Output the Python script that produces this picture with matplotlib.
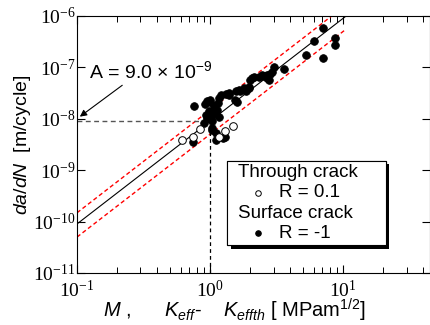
import matplotlib
matplotlib.use("Agg")
import matplotlib.pyplot as plt
import numpy as np
from matplotlib import patheffects
from matplotlib.lines import Line2D
from matplotlib.offsetbox import (AnchoredOffsetbox, DrawingArea, HPacker,
                                  TextArea, VPacker)

plt.rcParams['font.family'] = ['Liberation Sans', 'DejaVu Sans']
plt.rcParams['mathtext.fontset'] = 'custom'
plt.rcParams['mathtext.rm'] = 'Liberation Sans'
plt.rcParams['mathtext.it'] = 'Liberation Sans:italic'

# surface crack, R = -1
m_surface = [0.76, 0.74, 0.95, 0.90, 0.95, 0.92, 1.00, 1.07, 1.07, 0.93,
             1.01, 1.17, 1.04, 1.10, 1.25, 1.04, 1.10, 1.30, 1.17, 1.20,
             1.32, 1.39, 1.39, 1.55, 1.59, 1.56, 1.64, 1.69, 1.79, 1.85,
             1.95, 1.95, 2.00, 2.07, 2.14, 2.33, 2.45, 2.53, 2.68, 2.68,
             2.75, 2.83, 2.90, 3.00, 3.60, 5.24, 6.08, 7.10, 7.10, 8.67,
             8.67, 1.12, 1.15, 0.98, 1.03, 1.00]
dadn_surface = [1.74e-8, 3.55e-9, 2.24e-8, 8.1e-9, 1.02e-8, 1.95e-8, 2.14e-8,
                1.74e-8, 1.29e-8, 1.17e-8, 1.02e-8, 1.10e-8, 6.6e-9, 5.2e-9,
                4.2e-9, 6.0e-9, 3.9e-9, 4.4e-9, 2.5e-8, 2.9e-8, 3.0e-8,
                2.9e-8, 3.2e-8, 2.35e-8, 2.14e-8, 3.4e-8, 3.6e-8, 3.4e-8,
                3.9e-8, 3.55e-8, 3.9e-8, 4.2e-8, 5.6e-8, 6.3e-8, 6.6e-8,
                6.6e-8, 7.1e-8, 6.8e-8, 6.2e-8, 7.1e-8, 5.6e-8, 7.4e-8,
                8.3e-8, 1.02e-7, 9.3e-8, 1.74e-7, 3.2e-7, 5.75e-7, 1.55e-7,
                3.7e-7, 2.75e-7, 1.5e-8, 2.0e-8, 1.4e-8, 8.9e-9, 2.35e-8]

# through crack, R = 0.1
m_through = [0.62, 0.74, 0.84, 1.17, 1.29, 1.50]
dadn_through = [3.9e-9, 4.5e-9, 6.3e-9, 4.5e-9, 5.9e-9, 7.1e-9]

# fitted law da/dN = A * M^m and scatter band
A = 9.0e-9
m_exp = 2.0
band_hi = 1.65
band_lo = 1.8
m_fit = [0.1, 10.54]

fig = plt.figure(figsize=(4.31, 3.25), dpi=100)
ax = fig.add_axes([0.1787, 0.16, 0.819, 0.7908])

mm = np.array(m_fit)
ax.plot(mm, A * mm ** m_exp, color='k', lw=0.8)
ax.plot(mm, band_hi * A * mm ** m_exp, color='red', lw=1.0, dashes=(3, 2))
ax.plot(mm, A / band_lo * mm ** m_exp, color='red', lw=1.0, dashes=(3, 2))

ax.plot([0.1, 1.0], [A, A], color='#555555', lw=1.0, dashes=(3.5, 2.5))
ax.plot([1.0, 1.0], [1e-11, A], color='k', lw=0.9, dashes=(3, 2.5))

ax.plot(m_surface, dadn_surface, 'o', ms=5.5, mfc='k', mec='k', mew=0.6)
ax.plot(m_through, dadn_through, 'o', ms=5.5, mfc='white', mec='k', mew=0.7)

ax.annotate('A = 9.0 \u00d7 10$^{-9}$', xy=(0.105, 1.1e-8), xytext=(0.123, 8.3e-8),
            fontsize=14, va='center', ha='left',
            arrowprops=dict(arrowstyle='-|>', color='k', lw=0.8,
                            mutation_scale=10, shrinkA=0, shrinkB=0,
                            relpos=(0.3, 0.0)))

ax.set_xscale('log')
ax.set_yscale('log')
ax.set_xlim(0.1, 45)
ax.set_ylim(1e-11, 1e-6)
ax.tick_params(which='both', direction='in', top=True, right=True,
               labelsize=14, labelfontfamily='Liberation Serif')
ax.tick_params(which='major', length=6, width=0.8)
ax.tick_params(which='minor', length=4, width=0.7)
ax.tick_params(axis='y', which='minor', left=False, right=False)
ax.tick_params(axis='y', pad=1)
ax.tick_params(axis='x', pad=5)

ax.set_ylabel(r'$\mathit{da/dN}$  [m/cycle]', fontsize=14)
ax.yaxis.set_label_coords(-0.125, 0.5)
ax.set_xlabel(r'$\mathit{M}$ ,      $\mathit{K}_{\mathit{eff}}$-    '
              r'$\mathit{K}_{\mathit{effth}}$ [ MPam$^{1/2}$]', fontsize=14.5)
ax.xaxis.label.set_va('baseline')
ax.xaxis.set_label_coords(0.446, -0.175)

# legend box
fs = 13.5

def marker_row(face, label):
    da = DrawingArea(10, 10, 0, 0)
    da.add_artist(Line2D([5], [5], marker='o', ms=4, mfc=face, mec='k', mew=0.7))
    return HPacker(children=[DrawingArea(9.5, 1), da, DrawingArea(10, 1),
                             TextArea(label, textprops=dict(size=fs))],
                   align='center', pad=0, sep=0)

rows = [TextArea('Through crack', textprops=dict(size=fs)),
        marker_row('white', 'R = 0.1'),
        TextArea('Surface crack', textprops=dict(size=fs)),
        marker_row('k', 'R = -1')]
body = VPacker(children=rows, align='left', pad=0, sep=2.2)
box = HPacker(children=[DrawingArea(8, 1), body, DrawingArea(20, 1)],
              align='center', pad=0, sep=0)
box = VPacker(children=[DrawingArea(1, 2.5), box, DrawingArea(1, 2.5)],
              align='left', pad=0, sep=0)
anch = AnchoredOffsetbox(loc='upper left', child=box, pad=0, borderpad=0,
                         frameon=True, bbox_to_anchor=(0.425, 0.436),
                         bbox_transform=ax.transAxes)
anch.patch.set_boxstyle('square', pad=0)
anch.patch.set_edgecolor('k')
anch.patch.set_linewidth(0.8)
anch.patch.set_path_effects([patheffects.withSimplePatchShadow(
    offset=(2.5, -2.5), shadow_rgbFace='k', alpha=1.0), patheffects.Normal()])
ax.add_artist(anch)

fig.savefig('out.png', dpi=100)
